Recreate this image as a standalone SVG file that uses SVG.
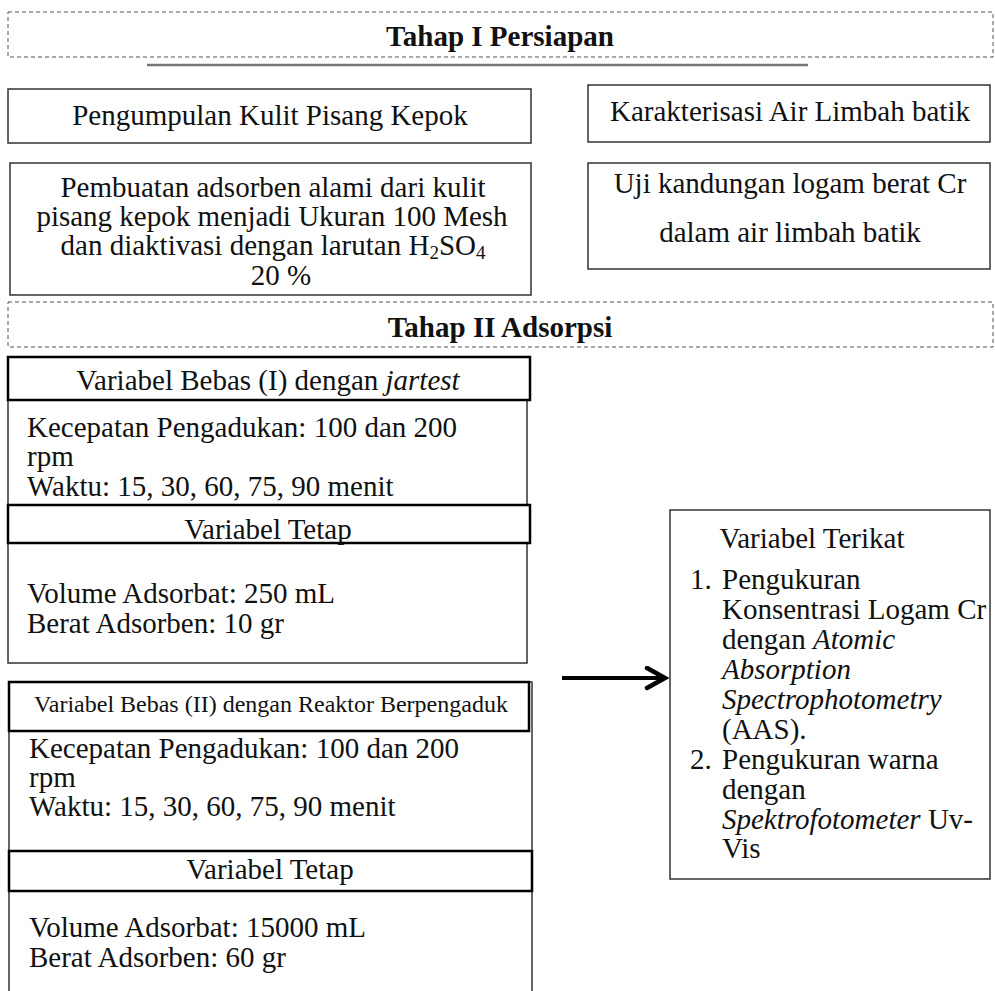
<svg xmlns="http://www.w3.org/2000/svg" width="995" height="991" viewBox="0 0 995 991">
<style>
text{font-family:"Liberation Serif","Times New Roman",serif;font-size:29px;fill:#111}
.t{font-weight:bold;font-size:29px;text-anchor:middle}
.c{text-anchor:middle}
.dash{fill:none;stroke:#555;stroke-width:1;stroke-dasharray:4 3}
.box{fill:#fff;stroke:#333;stroke-width:1.5}
.hdr{fill:#fff;stroke:#000;stroke-width:2.5}
.it{font-style:italic}
.sub{font-size:19px}
</style>
<defs>
<marker id="ah" markerUnits="userSpaceOnUse" markerWidth="30" markerHeight="30" refX="22" refY="12" orient="auto">
<path d="M4,2 L22,12 L4,22" fill="none" stroke="#000" stroke-width="4.5" stroke-linecap="round" stroke-linejoin="miter"/>
</marker>
</defs>
<rect width="995" height="991" fill="#fff"/>

<g id="tahap1">
<rect class="dash" x="8" y="12" width="985" height="45"/>
<text class="t" x="500" y="46">Tahap I Persiapan</text>
<line x1="147" y1="65" x2="808" y2="65" stroke="#777" stroke-width="2.5"/>
</g>

<g id="pengumpulan">
<rect class="box" x="8" y="89" width="523" height="54"/>
<text class="c" x="270" y="125">Pengumpulan Kulit Pisang Kepok</text>
</g>

<g id="karakterisasi">
<rect class="box" x="588" y="85" width="402" height="57"/>
<text class="c" x="790" y="121">Karakterisasi Air Limbah batik</text>
</g>

<g id="pembuatan">
<rect class="box" x="10" y="163" width="521" height="132"/>
<text class="c" x="273" y="197">Pembuatan adsorben alami dari kulit</text>
<text class="c" x="272" y="226">pisang kepok menjadi Ukuran 100 Mesh</text>
<text class="c" x="273" y="255">dan diaktivasi dengan larutan H<tspan class="sub" dy="4">2</tspan><tspan dy="-4">SO</tspan><tspan class="sub" dy="4">4</tspan></text>
<text class="c" x="281" y="285">20 %</text>
</g>

<g id="uji">
<rect class="box" x="588" y="163" width="402" height="106"/>
<text class="c" x="790" y="193">Uji kandungan logam berat Cr</text>
<text class="c" x="790" y="242">dalam air limbah batik</text>
</g>

<g id="tahap2">
<rect class="dash" x="8" y="302" width="985" height="45"/>
<text class="t" x="500" y="337">Tahap II Adsorpsi</text>
</g>

<g id="jartest">
<rect class="box" x="8" y="357" width="519" height="306"/>
<rect class="hdr" x="8" y="357" width="522" height="43"/>
<text class="c" x="268" y="390">Variabel Bebas (I) dengan <tspan class="it">jartest</tspan></text>
<text x="27" y="437">Kecepatan Pengadukan: 100 dan 200</text>
<text x="27" y="466">rpm</text>
<text x="27" y="496">Waktu: 15, 30, 60, 75, 90 menit</text>
<rect class="hdr" x="8" y="505" width="522" height="38" stroke-width="2"/>
<text class="c" x="268" y="539">Variabel Tetap</text>
<text x="27" y="603">Volume Adsorbat: 250 mL</text>
<text x="27" y="633">Berat Adsorben: 10 gr</text>
</g>

<g id="reaktor">
<rect class="box" x="9" y="682" width="523" height="320"/>
<rect class="hdr" x="9" y="682" width="520" height="49"/>
<text class="c" x="271" y="712" style="font-size:24px">Variabel Bebas (II) dengan Reaktor Berpengaduk</text>
<text x="29" y="758">Kecepatan Pengadukan: 100 dan 200</text>
<text x="29" y="787">rpm</text>
<text x="29" y="816">Waktu: 15, 30, 60, 75, 90 menit</text>
<rect class="hdr" x="9" y="851" width="523" height="40" stroke-width="2"/>
<text class="c" x="270" y="879">Variabel Tetap</text>
<text x="29" y="937">Volume Adsorbat: 15000 mL</text>
<text x="29" y="967">Berat Adsorben: 60 gr</text>
</g>

<g id="terikat">
<rect class="box" x="670" y="510" width="320" height="369"/>
<text class="c" x="812" y="548">Variabel Terikat</text>
<text x="690" y="589">1.</text>
<text x="722" y="589">Pengukuran</text>
<text x="722" y="619">Konsentrasi Logam Cr</text>
<text x="722" y="649">dengan <tspan class="it">Atomic</tspan></text>
<text x="722" y="679" class="it">Absorption</text>
<text x="722" y="709" class="it">Spectrophotometry</text>
<text x="722" y="739">(AAS).</text>
<text x="690" y="769">2.</text>
<text x="722" y="769">Pengukuran warna</text>
<text x="722" y="799">dengan</text>
<text x="722" y="829"><tspan class="it">Spektrofotometer</tspan> Uv-</text>
<text x="722" y="858">Vis</text>
</g>

<g id="connectors">
<path d="M562,678 L665,678" stroke="#000" stroke-width="4" fill="none" marker-end="url(#ah)"/>
</g>
</svg>
